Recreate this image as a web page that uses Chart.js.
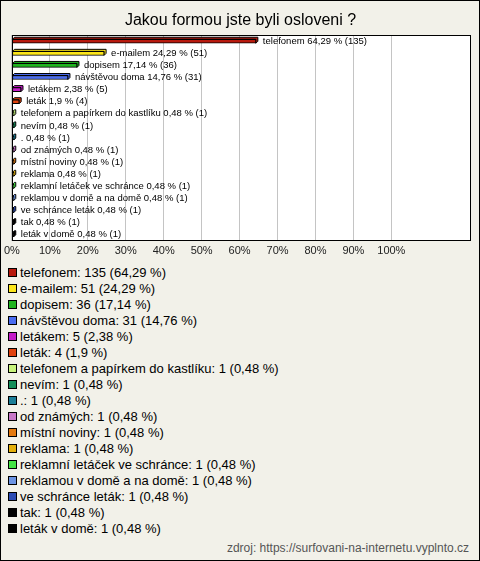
<!DOCTYPE html>
<html>
<head>
<meta charset="utf-8">
<script src="https://cdn.jsdelivr.net/npm/chart.js@4/dist/chart.umd.min.js"></script>
<style>
  html, body { margin: 0; padding: 0; }
  body { width: 480px; height: 561px; background: #f2f1e9; position: relative; overflow: hidden;
         font-family: "Liberation Sans", Arial, sans-serif; }
  #frame { position: absolute; left: 0; top: 0; width: 480px; height: 561px; box-sizing: border-box;
           border: 1px solid #000; pointer-events: none; }
  #wrap { position: absolute; left: 0; top: 0; width: 480px; height: 262px; }
  #legend { position: absolute; left: 8px; top: 264px; }
  .item { display: flex; align-items: center; height: 16px; font-size: 13px; color: #000; white-space: nowrap; }
  .sq { width: 7px; height: 7px; border: 1px solid #000; margin-right: 3px; flex: none; }
  #src { position: absolute; right: 11px; top: 541px; font-size: 12px; color: #555; }
</style>
</head>
<body>
<div id="wrap"><canvas id="chart"></canvas></div>
<div id="legend"></div>
<div id="src">zdroj: https://surfovani-na-internetu.vyplnto.cz</div>
<div id="frame"></div>
<script>
// odpovědi (kategorie), počty a procenta
const labels = ['telefonem', 'e-mailem', 'dopisem', 'návštěvou doma', 'letákem', 'leták',
    'telefonem a papírkem do kastlíku', 'nevím', '.', 'od známých', 'místní noviny', 'reklama',
    'reklamní letáček ve schránce', 'reklamou v domě a na domě', 've schránce leták', 'tak', 'leták v domě'];
const counts = [135, 51, 36, 31, 5, 4, 1, 1, 1, 1, 1, 1, 1, 1, 1, 1, 1];
const percents = [64.29, 24.29, 17.14, 14.76, 2.38, 1.9, 0.48, 0.48, 0.48, 0.48, 0.48, 0.48, 0.48, 0.48, 0.48, 0.48, 0.48];
const colors = ['#b81a0e', '#fce61c', '#20b420', '#4a6cf0', '#c41cc8', '#e0420e', '#c8f47c', '#148e5a',
    '#1c7e98', '#c878c8', '#e47a10', '#e4b00c', '#44e444', '#6c94e4', '#2c4cb4', '#000000', '#000000'];
const xTicks = [0, 10, 20, 30, 40, 50, 60, 70, 80, 90, 100];

const fmt = v => String(v).replace('.', ',');

// legenda pod grafem
const legend = document.getElementById('legend');
labels.forEach((l, i) => {
    const d = document.createElement('div');
    d.className = 'item';
    d.innerHTML = `<span class="sq" style="background:${colors[i]}"></span>${l}: ${counts[i]} (${fmt(percents[i])} %)`;
    legend.appendChild(d);
});

const DEPTH = 2;

// bílá plocha grafu + rámeček
const areaPlugin = {
    id: 'area',
    beforeDraw(chart) {
        const { ctx, chartArea: a } = chart;
        ctx.save();
        ctx.fillStyle = '#fff';
        ctx.fillRect(a.left, a.top, a.right - a.left, a.bottom - a.top);
        ctx.restore();
    },
    afterDraw(chart) {
        const { ctx, chartArea: a } = chart;
        ctx.save();
        ctx.strokeStyle = '#000';
        ctx.lineWidth = 1;
        ctx.strokeRect(Math.round(a.left) + 0.5, Math.round(a.top) + 0.5,
            Math.round(a.right - a.left) - 1, Math.round(a.bottom - a.top) - 1);
        ctx.restore();
    }
};

// "3D" stín sloupců + popisky
const depthPlugin = {
    id: 'depth',
    beforeDatasetsDraw(chart) {
        const ctx = chart.ctx;
        const meta = chart.getDatasetMeta(0);
        ctx.save();
        meta.data.forEach((bar, i) => {
            const h = bar.height;
            const x0 = bar.base, x1 = bar.x;
            const yt = bar.y - h / 2, yb = bar.y + h / 2;
            ctx.beginPath();
            ctx.moveTo(x0, yt);
            ctx.lineTo(x0 + DEPTH, yt - DEPTH);
            ctx.lineTo(x1 + DEPTH, yt - DEPTH);
            ctx.lineTo(x1 + DEPTH, yb - DEPTH);
            ctx.lineTo(x1, yb);
            ctx.lineTo(x1, yt);
            ctx.closePath();
            ctx.fillStyle = colors[i];
            ctx.fill();
            ctx.strokeStyle = '#000';
            ctx.lineWidth = 1;
            ctx.stroke();
        });
        ctx.restore();
    },
    afterDatasetsDraw(chart) {
        const ctx = chart.ctx;
        const meta = chart.getDatasetMeta(0);
        ctx.save();
        ctx.font = '9.5px "Liberation Sans", Arial, sans-serif';
        ctx.fillStyle = '#000';
        ctx.textBaseline = 'middle';
        meta.data.forEach((bar, i) => {
            ctx.fillText(`${labels[i]} ${fmt(percents[i])} % (${counts[i]})`, bar.x + DEPTH + 5, bar.y);
        });
        ctx.restore();
    }
};

new Chart(document.getElementById('chart'), {
    type: 'bar',
    data: {
        labels: labels,
        datasets: [{
            data: percents,
            backgroundColor: colors,
            borderColor: '#000',
            borderWidth: 1,
            borderSkipped: false,
            barThickness: 4
        }]
    },
    options: {
        indexAxis: 'y',
        responsive: true,
        maintainAspectRatio: false,
        animation: false,
        layout: { padding: { left: 10, right: 9, top: 0, bottom: 0 } },
        scales: {
            x: {
                min: 0,
                max: 121,
                afterBuildTicks: s => { s.ticks = xTicks.map(v => ({ value: v })); },
                grid: { color: '#c4c4c4', drawTicks: false },
                border: { display: false },
                ticks: {
                    padding: 4,
                    color: '#222',
                    font: { size: 11, family: '"Liberation Sans", Arial, sans-serif' },
                    callback: v => v + '%',
                    maxRotation: 0,
                    autoSkip: false
                }
            },
            y: { display: false }
        },
        plugins: {
            legend: { display: false },
            tooltip: { enabled: false },
            title: {
                display: true,
                text: 'Jakou formou jste byli osloveni ?',
                color: '#000',
                font: { size: 16, weight: 'normal', family: '"Liberation Sans", Arial, sans-serif' },
                padding: { top: 11, bottom: 5 }
            }
        }
    },
    plugins: [areaPlugin, depthPlugin]
});
</script>
</body>
</html>
